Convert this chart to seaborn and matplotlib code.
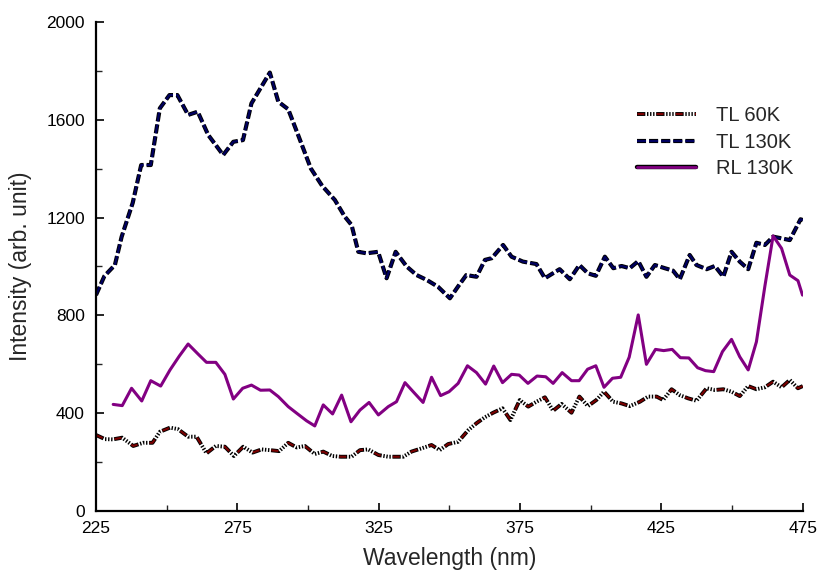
import matplotlib
matplotlib.use("Agg")
import matplotlib.pyplot as plt
from matplotlib.lines import Line2D
from matplotlib.legend_handler import HandlerTuple
from matplotlib.ticker import MultipleLocator
import seaborn as sns
import pandas as pd

# ---- data ----
tl130_wl = [225, 228, 231.7, 234.1, 238, 241, 244.4, 247.6, 251, 253.8, 257.6, 261, 264.7, 270,
            273.6, 277, 280, 286.5, 289.5, 293, 296.5, 301, 305, 309.5, 313, 315.4, 317.8, 320.7,
            324.8, 327.8, 331, 334.9, 338.4, 342, 346, 350.2, 353, 356, 359.6, 362.6, 365, 369,
            372, 376, 380.8, 383.8, 389, 392.6, 396, 399, 401.8, 405, 408, 410.9, 413.8, 416.8,
            419.7, 422.7, 426.2, 429.1, 431.5, 435, 437.4, 441, 443.9, 446.9, 449.8, 452.7,
            455.7, 458.6, 461.6, 464.5, 467.5, 470.4, 474.2, 475]
tl130_val = [883, 961, 1006, 1122, 1260, 1415, 1415, 1647, 1701, 1701, 1620, 1633, 1538, 1456,
             1510, 1517, 1667, 1793, 1674, 1643, 1538, 1401, 1330, 1272, 1204, 1170, 1060, 1054,
             1060, 952, 1060, 1000, 965, 945, 917, 870, 917, 965, 958, 1027, 1034, 1088,
             1040, 1020, 1010, 952, 989, 948, 1006, 972, 962, 1040, 993, 1002, 993, 1022,
             958, 1006, 993, 983, 948, 1047, 1006, 989, 1002, 958, 1060, 1020,
             989, 1097, 1088, 1122, 1115, 1108, 1193, 1190]

rl130_wl = [231.1, 234.3, 237.6, 241.2, 244.4, 247.9, 251.2, 254.5, 257.6, 261.2, 264.1, 267.4,
            270.6, 273.6, 276.9, 280, 283.2, 286.5, 289.5, 293, 296, 299.5, 302.4, 305.4, 308.7,
            311.9, 315.2, 318.4, 321.6, 324.9, 328.4, 331.3, 334.3, 337.2, 340.7, 343.7, 346.9,
            349.9, 353.1, 356.4, 359.6, 362.8, 365.7, 368.8, 372, 374.7, 377.8, 381, 384.1,
            386.7, 389.9, 393.2, 395.9, 398.9, 401.8, 404.7, 407.7, 410.6, 413.6, 416.8, 419.7,
            422.9, 425.8, 428.8, 431.7, 434.7, 437.8, 440.6, 443.5, 446.6, 449.8, 452.7, 455.7,
            458.6, 461.6, 464.5, 467.5, 470.4, 473.3, 474.9]
rl130_val = [436, 431, 502, 450, 533, 511, 577, 634, 683, 641, 608, 608,
             559, 458, 502, 515, 494, 495, 468, 427, 400, 369, 348, 434, 397,
             474, 365, 413, 444, 393, 427, 447, 525, 488, 444, 547, 472,
             488, 522, 594, 566, 519, 593, 525, 559, 556, 522, 552, 549,
             522, 566, 533, 533, 580, 594, 506, 543, 547, 629, 802, 600,
             661, 656, 661, 627, 626, 586, 574, 570, 652, 702, 631, 577,
             692, 920, 1125, 1074, 965, 942, 883]

tl60_wl = [225, 228.2, 231, 234.3, 238.2, 241.7, 245, 247.6, 251.2, 254, 257.6, 260.6, 264.1,
           267.4, 270.6, 273.8, 277.1, 280.4, 283.6, 286.5, 289.8, 293, 296, 298.9, 302.4,
           305.4, 308.6, 311.6, 315.4, 318.4, 321.3, 324.9, 328.4, 331, 333.7, 336.6, 340.1,
           343.7, 346.6, 349.6, 353.1, 356.7, 359.6, 362.5, 365.5, 368.8, 371.6, 374.9, 377.9,
           380.8, 383.8, 386.7, 389.7, 393.2, 396, 399, 402, 404.7, 407.9, 410.9, 413.8, 417.4,
           420.3, 423.3, 425.6, 428.6, 431.5, 434.4, 437.4, 441, 443.9, 446.9, 449.8, 452.7,
           455.7, 458.6, 461.6, 464.5, 467.5, 470.4, 473.3, 475]
tl60_val = [311, 294, 293, 300, 266, 279, 279, 324, 341, 335, 304, 304, 236,
            266, 263, 225, 263, 239, 252, 249, 245, 279, 260, 266, 233,
            243, 225, 222, 222, 249, 252, 229, 222, 222, 222, 243, 256,
            270, 249, 274, 283, 331, 359, 383, 402, 420, 372, 454, 427,
            447, 465, 410, 438, 402, 468, 429, 454, 488, 447, 440, 429, 447,
            468, 468, 454, 498, 474, 461, 451, 502, 495, 498, 488, 470,
            511, 498, 506, 529, 506, 536, 502, 511]

series_labels = ["TL 60K", "TL 130K", "RL 130K"]
x_ticks = [225, 275, 325, 375, 425, 475]
y_ticks = [0, 400, 800, 1200, 1600, 2000]

# ---- styles ----
sns.set_style("ticks")
plt.rcParams["font.family"] = ["Liberation Sans", "DejaVu Sans"]
plt.rcParams["lines.scale_dashes"] = False

navy = "#000060"
dred = "#7a0000"
purple = "#820082"

tl60_black = (0, (6.0, 1.2, 1.0, 1.2, 1.0, 1.2, 1.0, 1.2))
tl60_red = (13.5, (5.0, 8.8))  # red segment sits inside the black long dash
tl130_dash = (0, (6.5, 2.2))

fig = plt.figure(figsize=(8.2, 5.72), dpi=100)
ax = fig.add_axes([0.117, 0.1066, 0.862, 0.855])

df60 = pd.DataFrame({"wl": tl60_wl, "val": tl60_val})
df130 = pd.DataFrame({"wl": tl130_wl, "val": tl130_val})
dfrl = pd.DataFrame({"wl": rl130_wl, "val": rl130_val})

def add(df, color, lw, ls):
    sns.lineplot(data=df, x="wl", y="val", ax=ax, color=color, lw=lw, estimator=None, legend=False)
    ln = ax.lines[-1]
    ln.set_linestyle(ls)
    ln.set_dash_capstyle("butt")
    return ln

add(df60, "black", 2.8, tl60_black)
add(df60, dred, 1.5, tl60_red)
add(df130, "black", 3.0, tl130_dash)
add(df130, navy, 1.6, tl130_dash)
add(dfrl, purple, 2.2, "-")

ax.set_xlim(225, 475)
ax.set_ylim(0, 2000)
ax.set_xticks(x_ticks)
ax.set_yticks(y_ticks)
ax.xaxis.set_minor_locator(MultipleLocator(25))
ax.yaxis.set_minor_locator(MultipleLocator(200))
ax.tick_params(which="major", direction="in", length=6, width=1.2, labelsize=12.5, pad=7, colors="black")
ax.tick_params(which="minor", direction="in", length=4, width=1.0)
ax.tick_params(axis="y", pad=8)
sns.despine(ax=ax)
for s in ("left", "bottom"):
    ax.spines[s].set_linewidth(1.6)
    ax.spines[s].set_color("black")

ax.set_xlabel("Wavelength (nm)", fontsize=16.5, labelpad=8)
ax.set_ylabel("Intensity (arb. unit)", fontsize=16.5, labelpad=10)

h60 = (Line2D([], [], color="black", lw=2.8, linestyle=tl60_black, dash_capstyle="butt"),
       Line2D([], [], color=dred, lw=1.5, linestyle=tl60_red, dash_capstyle="butt"))
h130 = (Line2D([], [], color="black", lw=3.0, linestyle=tl130_dash, dash_capstyle="butt"),
        Line2D([], [], color=navy, lw=1.6, linestyle=tl130_dash, dash_capstyle="butt"))
hrl = (Line2D([], [], color="black", lw=3.2), Line2D([], [], color=purple, lw=2.0))
ax.legend([h60, h130, hrl], series_labels,
          handler_map={tuple: HandlerTuple(ndivide=1, pad=0)},
          loc="upper left", bbox_to_anchor=(0.74, 0.865), frameon=False,
          fontsize=14.5, handlelength=2.9, handletextpad=1.0, labelspacing=0.38)

fig.savefig("out.png", dpi=100)
